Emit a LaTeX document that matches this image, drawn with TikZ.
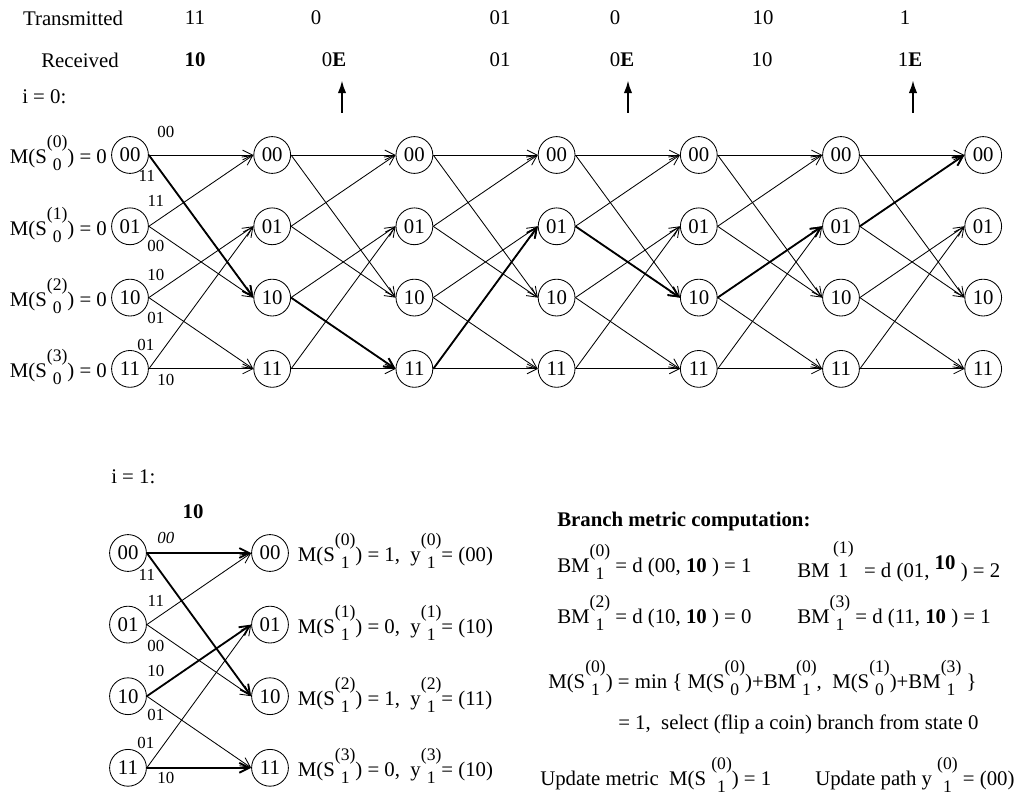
\documentclass[tikz,border=0pt]{standalone}
\usepackage{fontspec}
\setmainfont{Liberation Serif}
\usetikzlibrary{positioning, calc, arrows.meta}

% stacked upper and lower index, as in M(S^(0)_0)
\newcommand{\ud}[2]{\raisebox{-5pt}{\fontsize{12.5}{16.3}\selectfont\begin{tabular}[b]{@{}c@{}}(#1)\\#2\end{tabular}}}
% upper index over a full size digit
\newcommand{\uo}[2]{\begin{tabular}[b]{@{}c@{}}{\fontsize{12.5}{12.5}\selectfont(#1)}\\#2\end{tabular}}

\begin{document}
\begin{tikzpicture}[x=0.025cm, y=-0.025cm,
  st/.style={draw, circle, minimum size=0.92cm, inner sep=0pt, line width=0.6pt,
    font=\fontsize{14.8}{16}\selectfont},
  br/.style={-{Straight Barb[length=7pt, width=7pt]}, line width=0.6pt},
  surv/.style={br, line width=1.3pt},
  lbl/.style={font=\fontsize{12}{12}\selectfont, inner sep=0pt},
  txt/.style={font=\fontsize{14.8}{17}\selectfont, inner sep=0pt},
  era/.style={-{Latex[length=9pt, width=6pt]}, line width=1.2pt},
]
  \useasboundingbox (0,0) rectangle (1015,795);

  % header rows
  \node[txt] (tx) at (73,18) {Transmitted};
  \node[txt] (rx) at (80,60) {Received};
  \foreach \n/\x/\t in {1/195/11, 2/316/0, 3/500/01, 4/615/0, 5/763/10, 6/905/1}
    \node[txt] (tx\n) at (\x,18) {\t};
  \node[txt] (rx1) at (195,60) {\textbf{10}};
  \node[txt] (rx2) at (334,60) {0\textbf{E}};
  \node[txt] (rx3) at (500,60) {01};
  \node[txt] (rx4) at (622,60) {0\textbf{E}};
  \node[txt] (rx5) at (762,60) {10};
  \node[txt] (rx6) at (910,60) {1\textbf{E}};
  \foreach \n/\x in {2/342, 4/628, 6/913} {
    \coordinate (e\n) at (\x,113);
    \draw[era, shorten >=0.33cm] (e\n) -- (e\n |- rx\n.south);
  }
  \node[txt, anchor=west] (i0) at (22,97) {i = 0:};

  % full trellis
  \foreach \c in {0,...,6}
    \foreach \s [count=\r from 0] in {00,01,10,11}
      \node[st] (t\c-\s) at ({130+142.2*\c},{155+71.3*\r}) {\s};
  \foreach \c [evaluate=\c as \d using int(\c+1)] in {0,...,5}
    \foreach \a/\b in {00/00,00/10,01/00,01/10,10/01,10/11,11/01,11/11}
      \draw[br] (t\c-\a.east) -- (t\d-\b.west);
  \foreach \c/\a/\d/\b in {0/00/1/10, 1/10/2/11, 2/11/3/01, 3/01/4/10, 4/10/5/01, 5/01/6/00}
    \draw[surv] (t\c-\a.east) -- (t\d-\b.west);

  \foreach \s/\k in {00/0,01/1,10/2,11/3}
    \node[txt, anchor=base east, xshift=-0.1cm, yshift=-0.22cm] (m\k) at (t0-\s.west) {M(S\ud{\k}{0}) = 0};
  \foreach \s/\dx/\dy/\t [count=\n] in {00/17/-23/00, 00/-2/21/11, 01/7/-25/11, 01/7/20/00,
      10/7/-23/10, 10/7/20/01, 11/-3/-24/01, 11/17/11/10}
    \node[lbl] (l\n) at ($(t0-\s.east)+(\dx,\dy)$) {\t};

  % first step, i = 1
  \node[txt, anchor=west] (i1) at (111,477) {i = 1:};
  \node[txt] (rb) at (193,512) {\textbf{10}};
  \foreach \s [count=\r from 0] in {00,01,10,11} {
    \node[st] (a-\s) at (128,{553+71.6*\r}) {\s};
    \node[st] (b-\s) at (270,{553+71.6*\r}) {\s};
  }
  \foreach \a/\b in {01/00,01/10,10/11,11/01}
    \draw[br] (a-\a.east) -- (b-\b.west);
  \foreach \a/\b in {00/00,00/10,10/01,11/11}
    \draw[surv] (a-\a.east) -- (b-\b.west);
  \foreach \s/\dx/\dy/\t [count=\n] in {00/19/-15/\textit{00}, 00/0/22/11, 01/9/-24/11, 01/9/21/00,
      10/9/-25/10, 10/9/19/01, 11/-1/-25/01, 11/19/10/10}
    \node[lbl] (k\n) at ($(a-\s.east)+(\dx,\dy)$) {\t};
  \foreach \s/\k/\m/\y in {00/0/1/00, 01/1/0/10, 10/2/1/11, 11/3/0/10}
    \node[txt, anchor=base west, xshift=0.22cm, yshift=-0.22cm] (v\k) at (b-\s.east)
      {M(S\ud{\k}{1}) = \m,\ \ y\ud{\k}{1}= (\y)};

  % branch metrics
  \node[txt, anchor=base west] (bmt) at (557,526) {\textbf{Branch metric computation:}};
  \node[txt, anchor=base west] (bm0) at (557,572) {BM\ud{0}{1} = d (00, \textbf{10} ) = 1};
  \node[txt, anchor=base west] (bm1) at (797,577) {BM\,\uo{1}{1}\ \ = d (01, \raisebox{5pt}{\textbf{10}} ) = 2};
  \node[txt, anchor=base west] (bm2) at (557,623) {BM\ud{2}{1} = d (10, \textbf{10} ) = 0};
  \node[txt, anchor=base west] (bm3) at (797,623) {BM\ud{3}{1} = d (11, \textbf{10} ) = 1};
  \node[txt, anchor=base west] (mn) at (548,688)
    {M(S\ud{0}{1}) = min \{ M(S\ud{0}{0})+BM\ud{0}{1},\ \ M(S\ud{1}{0})+BM\ud{3}{1} \}};
  \node[txt, anchor=base west] (sel) at (618,729) {= 1,\ \ select (flip a coin) branch from state 0};
  \node[txt, anchor=base west] (upm) at (540,785) {Update metric\ \ M(S \ud{0}{1}) = 1};
  \node[txt, anchor=base west] (upp) at (815,785) {Update path y \ud{0}{1} = (00)};
\end{tikzpicture}
\end{document}
